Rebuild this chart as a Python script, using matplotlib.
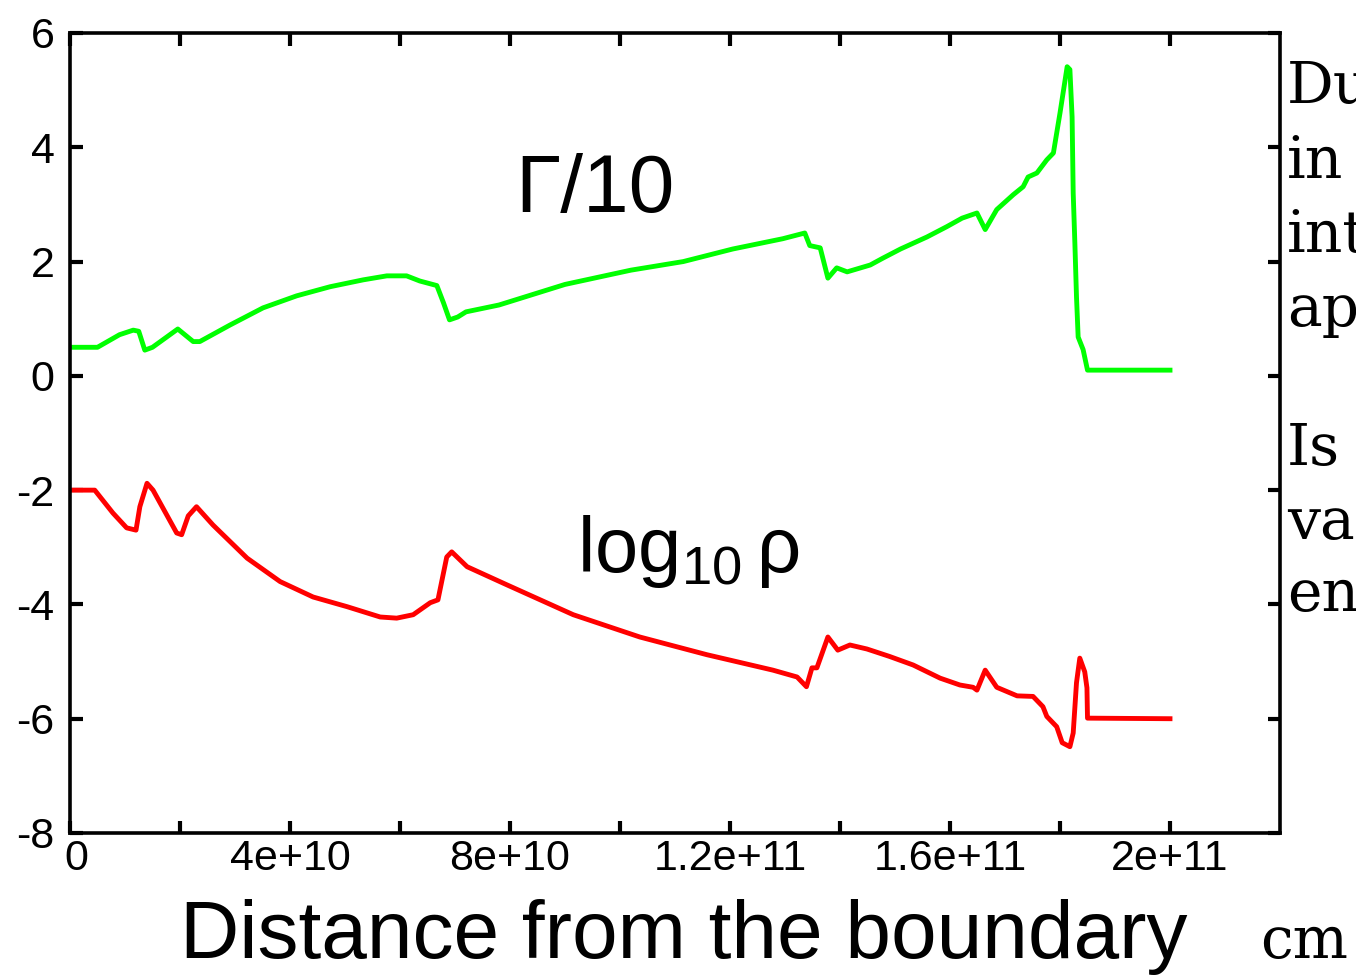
import matplotlib
matplotlib.use('Agg')
import matplotlib.pyplot as plt
import matplotlib.transforms as mtransforms
import numpy as np

# Gamma/10 curve (green), x in units of 1e9 cm
gamma_x = [0, 5, 9, 11.5, 12.5, 13.6, 15, 19.6, 22.4, 23.6,
           29.1, 35.1, 41.2, 47.3, 53.3, 57.6, 61.2, 63.6, 66.7, 67.9, 69, 70.5,
           72, 78, 90, 102, 111.5, 120.5, 129.6, 133.6, 134.5, 136.4,
           137.8, 139.4, 141.3, 145.5, 147.8, 151, 155.8, 159.4, 162.2, 164.9,
           166.4, 168.5, 171.5, 173.3, 174.2, 175.8, 177.6, 178.8, 180, 181.3,
           181.8, 182.2, 182.4, 182.7, 183, 183.3, 184.2, 185, 200]
gamma_y = [0.5, 0.5, 0.72, 0.8, 0.78, 0.45, 0.5, 0.82, 0.6, 0.6,
           0.89, 1.19, 1.4, 1.56, 1.68, 1.75, 1.75, 1.66, 1.58, 1.28, 0.98, 1.03,
           1.12, 1.24, 1.6, 1.85, 2.0, 2.22, 2.4, 2.5, 2.28, 2.24,
           1.71, 1.89, 1.82, 1.94, 2.06, 2.22, 2.43, 2.61, 2.76, 2.85,
           2.56, 2.91, 3.17, 3.31, 3.48, 3.55, 3.78, 3.9, 4.6, 5.41,
           5.36, 4.53, 3.2, 2.33, 1.38, 0.68, 0.46, 0.1, 0.1]

# log10 rho curve (red)
rho_x = [0, 4.5, 7.8, 10.3, 12, 12.7, 14, 15.1, 19.4, 20.3,
         21.5, 23, 26, 32.2, 38.2, 44.2, 50.4, 56.4, 59.4, 62.4, 65.5,
         66.9, 68.5, 69.4, 72.2, 79.5, 91.5, 103.6, 115.8, 127.8,
         132.2, 133.9, 134.9, 135.8, 137.8, 139.6, 141.8, 144.9, 149, 153.3,
         158.2, 161.8, 164.2, 164.9, 166.4, 168.5, 172.2, 175.1, 176.9, 177.6,
         179.4, 180.4, 181.8, 182.4, 183, 183.6, 184.5, 184.9, 185, 200]
rho_y = [-2.0, -2.0, -2.4, -2.66, -2.7, -2.29, -1.88, -2.0, -2.75, -2.78,
         -2.45, -2.29, -2.61, -3.19, -3.6, -3.87, -4.04, -4.22, -4.24, -4.18, -3.97,
         -3.92, -3.17, -3.08, -3.34, -3.66, -4.18, -4.57, -4.88, -5.15,
         -5.27, -5.44, -5.11, -5.11, -4.57, -4.8, -4.71, -4.78, -4.91, -5.06,
         -5.29, -5.41, -5.45, -5.5, -5.15, -5.45, -5.6, -5.61, -5.79, -5.96,
         -6.14, -6.42, -6.49, -6.25, -5.37, -4.94, -5.18, -5.46, -5.99, -6.0]

x_ticks = [0, 4e10, 8e10, 1.2e11, 1.6e11, 2e11]
x_tick_labels = ['0', '4e+10', '8e+10', '1.2e+11', '1.6e+11', '2e+11']
y_ticks = [-8, -6, -4, -2, 0, 2, 4, 6]

# text of the page next to the figure (cut off at the right edge)
side_lines = ['Du', 'in', 'int', 'ap', 'Is', 'va', 'en']
side_baselines = [103, 178, 252, 326, 465, 539, 611]

plt.rcParams['font.family'] = ['Liberation Sans', 'DejaVu Sans']

W, H = 1356, 977
fig = plt.figure(figsize=(W / 100, H / 100), dpi=100)
ax = fig.add_axes([70 / W, 1 - 833 / H, 1210 / W, 800 / H])

ax.plot(np.array(gamma_x) * 1e9, gamma_y, color='#00ff00', linewidth=3.5)
ax.plot(np.array(rho_x) * 1e9, rho_y, color='#ff0000', linewidth=3.5)

ax.set_xlim(0, 2.2e11)
ax.set_ylim(-8, 6)
ax.set_xticks(x_ticks)
ax.set_xticklabels(x_tick_labels)
ax.set_xticks(np.arange(0, 2.2e11, 2e10), minor=True)
ax.set_yticks(y_ticks)
ax.set_yticklabels([str(v) for v in y_ticks])
ax.tick_params(which='both', direction='in', top=True, right=True,
               length=9, width=3, labelsize=31)
ax.tick_params(axis='x', pad=4)
ax.tick_params(axis='y', pad=11)
for s in ax.spines.values():
    s.set_linewidth(2.6)

# the "0" label sits a little right of its tick in the original
lab0 = ax.get_xticklabels()[0]
lab0.set_transform(lab0.get_transform() +
                   mtransforms.ScaledTranslation(6 / 100, 0, fig.dpi_scale_trans))

ax.text(95.5e9, 2.87, '\u0393/10', fontsize=59, ha='center', va='baseline')
ax.text(92.2e9, -3.43, r'$\mathregular{log_{10}\,\rho}$', fontsize=56,
        ha='left', va='baseline')

fig.text(684 / W, 1 - 958 / H, 'Distance from the boundary', fontsize=59,
         ha='center', va='baseline')
fig.text(1260 / W, 1 - 958 / H, 'cm', fontsize=42, family='DejaVu Serif',
         ha='left', va='baseline')
for line, yb in zip(side_lines, side_baselines):
    fig.text(1287 / W, 1 - yb / H, line, fontsize=42, family='DejaVu Serif',
             ha='left', va='baseline')

fig.savefig('out.png', dpi=100)
